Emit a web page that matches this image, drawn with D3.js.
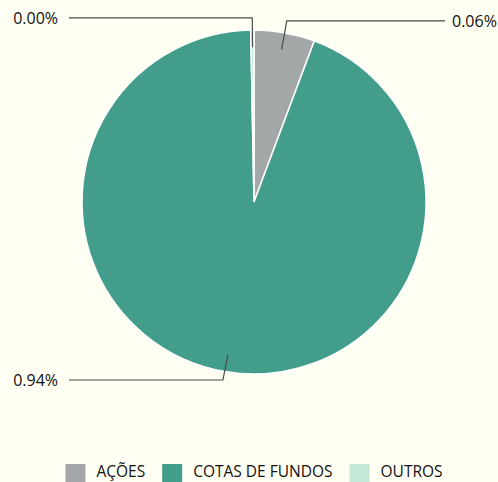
<!DOCTYPE html>
<html>
<head>
<meta charset="utf-8">
<script src="https://cdn.jsdelivr.net/npm/d3@7"></script>
<style>
  body { margin: 0; background: #fffff3; }
  svg { display: block; }
  text { font-family: "Open Sans", sans-serif; fill: #111; }
</style>
</head>
<body>
<div id="chart"></div>
<script>
// slice data, clockwise from 12 o'clock
var categories = ["AÇÕES", "COTAS DE FUNDOS", "OUTROS"];
var values = [0.057, 0.94, 0.003];
var labels = ["0.06%", "0.94%", "0.00%"];
var colors = ["#a4a7a7", "#429e8b", "#c5e8d6"];

var width = 498, height = 482;
var cx = 254, cy = 202, r = 172;

var svg = d3.select("#chart").append("svg")
    .attr("width", width)
    .attr("height", height);

svg.append("rect").attr("width", width).attr("height", height).attr("fill", "#fffff3");

var pie = d3.pie().sort(null).value(function (d) { return d; });
var arcs = pie(values);

var arc = d3.arc().innerRadius(0).outerRadius(r);

var g = svg.append("g").attr("transform", "translate(" + cx + "," + cy + ")");

g.selectAll("path.slice")
    .data(arcs)
    .enter().append("path")
    .attr("class", "slice")
    .attr("d", arc)
    .attr("fill", function (d, i) { return colors[i]; })
    .attr("stroke", "#ffffff")
    .attr("stroke-width", 1.5);

// callouts: from 0.9r inside the slice, out to 1.07r, then flat to the side
var lineLeft = -185, lineRight = 191;
function pt(a, rad) { return [Math.sin(a) * rad, -Math.cos(a) * rad]; }

arcs.forEach(function (d, i) {
    var mid = (d.startAngle + d.endAngle) / 2;
    var p1 = pt(mid, r * 0.9);
    var p2 = pt(mid, r * 1.07);
    var right = Math.sin(mid) > 0.02;
    if (i == 1) p2[1] = 178;
    var x3 = right ? lineRight : lineLeft;
    g.append("polyline")
        .attr("points", [p1, p2, [x3, p2[1]]].map(function (p) { return p.join(","); }).join(" "))
        .attr("fill", "none")
        .attr("stroke", "#4a4a4a")
        .attr("stroke-width", 1.2);
    g.append("text")
        .attr("x", right ? x3 + 7 : x3 - 11)
        .attr("y", p2[1])
        .attr("dy", "0.35em")
        .attr("text-anchor", right ? "start" : "end")
        .style("font-size", "16px")
        .text(labels[i]);
});

// legend, centred under the pie
var leg = svg.append("g").attr("class", "legend");
var x = 0;
categories.forEach(function (c, i) {
    leg.append("rect")
        .attr("x", x).attr("y", 464)
        .attr("width", 20).attr("height", 18)
        .attr("fill", colors[i]);
    var t = leg.append("text")
        .attr("x", x + 31).attr("y", 477)
        .style("font-size", "15.5px")
        .text(c);
    x = x + 31 + t.node().getComputedTextLength() + 17;
});
var legW = x - 17;
leg.attr("transform", "translate(" + (cx - legW / 2) + ",0)");
</script>
</body>
</html>
